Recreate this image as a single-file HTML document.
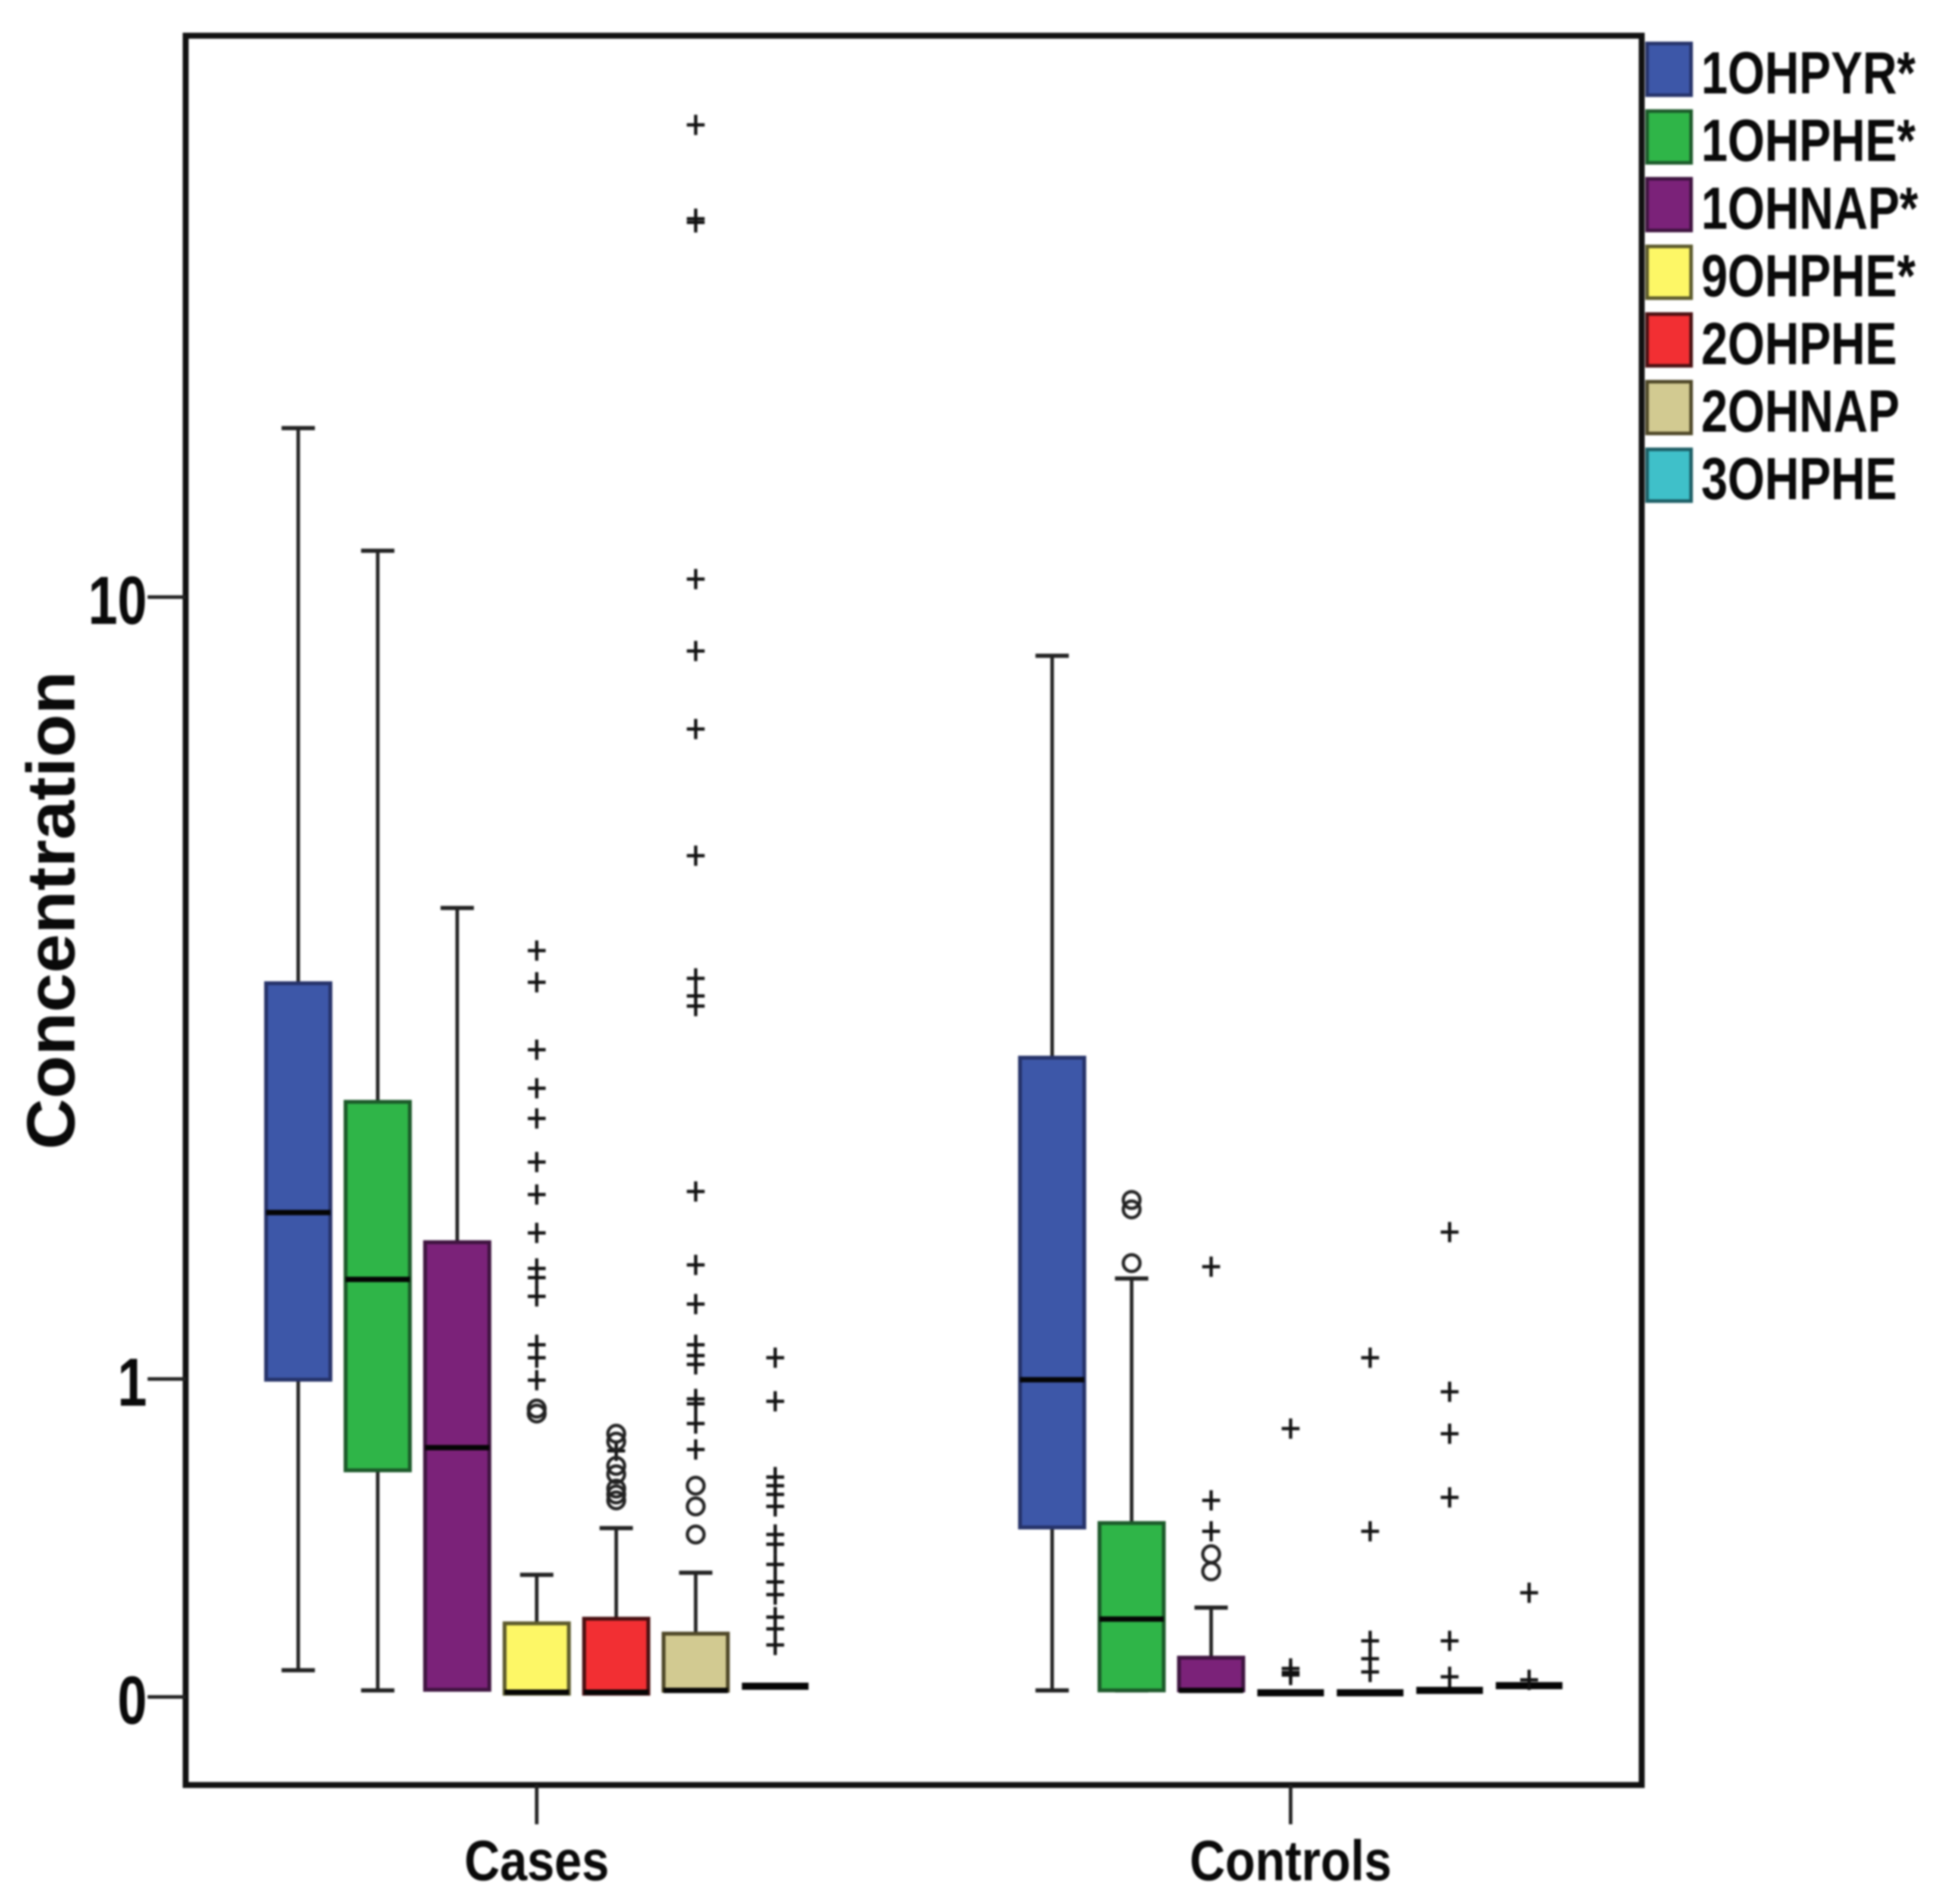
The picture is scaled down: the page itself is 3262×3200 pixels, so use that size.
<!DOCTYPE html>
<html lang="en">
<head>
<meta charset="utf-8">
<title>Concentration box plots by case and control group</title>
<style>
html,body{margin:0;padding:0;background:#fff;}
svg{display:block;filter:blur(1.5px);}
text{font-family:"Liberation Sans",Arial,sans-serif;font-weight:bold;fill:#0a0a0a;}
</style>
</head>
<body>
<svg id="chart" xmlns="http://www.w3.org/2000/svg" width="3262" height="3200" viewBox="0 0 3262 3200">
<rect x="0" y="0" width="3262" height="3200" fill="#fff"/>
<g id="marks"></g>
<rect x="312" y="60" width="2447" height="2940" fill="none" stroke="#111" stroke-width="10"/>
<g id="axes"></g>
<text transform="translate(125,1530) rotate(-90)" text-anchor="middle" font-size="114" textLength="804" lengthAdjust="spacingAndGlyphs">Concentration</text>
<g id="legend"></g>
</svg>
<script>
const analytes = ['1OHPYR*','1OHPHE*','1OHNAP*','9OHPHE*','2OHPHE','2OHNAP','3OHPHE'];
const analyteColors = ['#3d57a8','#2fb548','#7b2279','#fdf766','#f22f33','#d2ca91','#3fc0c9'];
const analyteStrokes = ['#26336a','#1c5a2a','#3f1440','#5c5a2c','#4a1012','#4f4828','#1d5f66'];
const groups = ['Cases','Controls'];
const yTickValues = [0,1,10];
const yTickLabels = ['0','1','10'];

const casesWhiskerHigh = [14.9,11.17,4.585,0.305,0.445,0.311,0.0236];
const casesQ3 = [3.74,2.66,1.695,0.174,0.186,0.148,0.0236];
const casesMedian = [1.875,1.485,0.722,0.0104,0.0104,0.0144,0.0236];
const casesQ1 = [0.997,0.639,0.0157,0.0071,0.0071,0.0137,0.0236];
const casesWhiskerLow = [0.06,0.0144,0.0157,0.0071,0.0071,0.0137,0.0236];
const casesExtremes = [[],[],[],
 [4.09,3.75,3.10,2.77,2.53,2.21,1.99,1.75,1.545,1.495,1.395,1.155,1.095,0.995],
 [0.71],
 [29.8,24.1,23.9,10.44,8.78,7.25,5.26,3.79,3.61,3.51,2.01,1.565,1.355,1.155,1.105,1.065,0.915,0.895,0.815,0.715],
 [1.095,0.905,0.615,0.585,0.555,0.515,0.425,0.395,0.335,0.285,0.25,0.19,0.16,0.12]];
const casesOutliers = [[],[],[],
 [0.875,0.855],
 [0.775,0.745,0.655,0.625,0.575,0.555,0.535],
 [0.585,0.515,0.425],
 []];

const controlsWhiskerHigh = [8.68,1.49,0.215,0.0091,0.0091,0.0144,0.025];
const controlsQ3 = [3.03,0.461,0.0894,0.0091,0.0091,0.0144,0.025];
const controlsMedian = [0.997,0.185,0.0144,0.0091,0.0091,0.0144,0.025];
const controlsQ1 = [0.447,0.0144,0.0144,0.0091,0.0091,0.0144,0.025];
const controlsWhiskerLow = [0.0144,0.0144,0.0144,0.0091,0.0091,0.0144,0.025];
const controlsExtremes = [[],[],
 [1.555,0.535,0.435],
 [0.795,0.064,0.055,0.049],
 [1.095,0.435,0.13,0.087,0.056],
 [1.755,0.945,0.775,0.545,0.13,0.045],
 [0.255,0.038]];
const controlsOutliers = [[],
 [1.955,1.895,1.575],
 [0.365,0.315],
 [],[],[],[]];

const groupWhiskerHigh = [casesWhiskerHigh,controlsWhiskerHigh];
const groupQ3 = [casesQ3,controlsQ3];
const groupMedian = [casesMedian,controlsMedian];
const groupQ1 = [casesQ1,controlsQ1];
const groupWhiskerLow = [casesWhiskerLow,controlsWhiskerLow];
const groupExtremes = [casesExtremes,controlsExtremes];
const groupOutliers = [casesOutliers,controlsOutliers];

const SVGNS = 'http://www.w3.org/2000/svg';
const INK = '#222';
function yScale(v){ return 2852 - 1775*Math.log10(1+v); }
function xGroup(g){ return 902 + g*1267; }
function xBox(g,i){ return xGroup(g) + (i-3)*133.6; }
function make(parent,tag,attrs){
  const el = document.createElementNS(SVGNS,tag);
  for(const k in attrs){ el.setAttribute(k,attrs[k]); }
  parent.appendChild(el);
  return el;
}
const marks = document.getElementById('marks');
const axes = document.getElementById('axes');
const legend = document.getElementById('legend');

groups.forEach(function(groupName,g){
  analytes.forEach(function(an,i){
    const x = xBox(g,i);
    const hi = yScale(groupWhiskerHigh[g][i]);
    const q3 = yScale(groupQ3[g][i]);
    const med = yScale(groupMedian[g][i]);
    const q1 = yScale(groupQ1[g][i]);
    const lo = yScale(groupWhiskerLow[g][i]);
    const flat = Math.abs(q1-q3) < 1;

    if(hi < q3 - 1){
      const wh = make(marks,'line',{x1:x,x2:x,y1:hi,y2:q3,stroke:INK,'stroke-width':6});
      
      
      const ch = make(marks,'line',{x1:x-28,x2:x+28,y1:hi,y2:hi,stroke:INK,'stroke-width':7});
      
      
    }
    if(lo > q1 + 1 || (i < 2 && lo >= q1)){
      const wl = make(marks,'line',{x1:x,x2:x,y1:q1,y2:lo,stroke:INK,'stroke-width':6});
      
      
      const cl = make(marks,'line',{x1:x-28,x2:x+28,y1:lo,y2:lo,stroke:INK,'stroke-width':7});
      
      
    }
    if(!flat){
      const box = make(marks,'rect',{x:x-54,y:q3,width:108,height:q1-q3,fill:analyteColors[i],stroke:analyteStrokes[i],'stroke-width':6.5});
      
      
    }
    const half = flat ? 56 : 54;
    const m = make(marks,'line',{x1:x-half,x2:x+half,y1:med,y2:med,stroke:'#050505','stroke-width':flat?12:9});
    
    

    groupExtremes[g][i].forEach(function(v){
      const y = yScale(v);
      const p = make(marks,'path',{d:'M'+(x-15)+' '+y+'H'+(x+15)+'M'+x+' '+(y-17)+'V'+(y+17),stroke:'#111','stroke-width':5.5,fill:'none'});
      
      
    });
    groupOutliers[g][i].forEach(function(v){
      const y = yScale(v);
      const c = make(marks,'circle',{cx:x,cy:y,r:14,stroke:'#222',fill:'none','stroke-width':5.5});
      
      
    });
  });

  const xt = make(axes,'line',{x1:xGroup(g),x2:xGroup(g),y1:3000,y2:3066,stroke:INK,'stroke-width':6});
  
  
  const xl = make(axes,'text',{transform:'translate('+xGroup(g)+',3160) scale(0.86,1)','text-anchor':'middle','font-size':96});
  xl.textContent = groupName;
  
  
});

yTickValues.forEach(function(v,k){
  const y = yScale(v);
  const t = make(axes,'line',{x1:248,x2:312,y1:y,y2:y,stroke:INK,'stroke-width':6});
  
  
  const l = make(axes,'text',{transform:'translate(247,'+(y+45)+') scale(0.78,1)','text-anchor':'end','font-size':114});
  l.textContent = yTickLabels[k];
  
  
});

analytes.forEach(function(an,i){
  const top = 73 + i*113.7;
  const s = make(legend,'rect',{x:2768,y:top,width:74,height:87,fill:analyteColors[i],stroke:analyteStrokes[i],'stroke-width':6});
  
  
  const t = make(legend,'text',{transform:'translate(2859,'+(top+84)+') scale(0.8,1)','font-size':100});
  t.textContent = an;
  
  
});
</script>
</body>
</html>
